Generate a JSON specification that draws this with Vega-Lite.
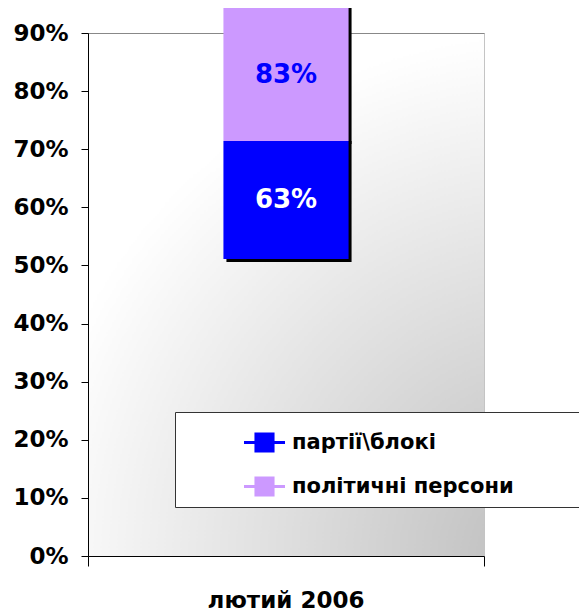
{
  "$schema": "https://vega.github.io/schema/vega-lite/v6.json",
  "width": 396,
  "height": 523,
  "autosize": {"type": "none"},
  "padding": {"left": 88, "top": 33, "right": 95, "bottom": 58},
  "background": "white",
  "config": {
    "font": "DejaVu Sans",
    "view": {
      "stroke": "#c4c4c4",
      "strokeWidth": 1,
      "fill": {
        "gradient": "radial",
        "x1": 1, "y1": 1, "r1": 0,
        "x2": 1, "y2": 1, "r2": 1.0,
        "stops": [
          {"offset": 0, "color": "#bcbcbc"},
          {"offset": 0.5, "color": "#dedede"},
          {"offset": 1, "color": "#ffffff"}
        ]
      }
    }
  },
  "data": {
    "values": [
      {"month": "лютий 2006", "series": "партії\\блокі", "start": 0.511, "end": 0.714, "label": "63%"},
      {"month": "лютий 2006", "series": "політичні персони", "start": 0.714, "end": 0.943, "label": "83%"}
    ]
  },
  "layer": [
    {
      "mark": {"type": "bar", "color": "#000000", "xOffset": 3, "yOffset": 3, "width": {"band": 0.316}},
      "encoding": {
        "x": {
          "field": "month", "type": "nominal",
          "scale": {"paddingInner": 0, "paddingOuter": 0},
          "axis": {
            "title": null,
            "orient": "bottom",
            "bandPosition": 0,
            "ticks": true,
            "tickSize": 10,
            "tickColor": "#000000",
            "domainColor": "#000000",
            "labelAngle": 0,
            "labelPadding": 23,
            "labelFont": "DejaVu Sans",
            "labelFontWeight": "bold",
            "labelFontSize": 23,
            "labelColor": "#000000"
          }
        },
        "y": {
          "field": "start", "type": "quantitative",
          "scale": {"domain": [0, 0.9], "nice": false, "zero": false},
          "axis": {
            "title": null,
            "values": [0, 0.1, 0.2, 0.3, 0.4, 0.5, 0.6, 0.7, 0.8, 0.9],
            "format": ".0%",
            "grid": false,
            "tickSize": 7,
            "tickColor": "#000000",
            "domainColor": "#000000",
            "labelPadding": 13,
            "labelFont": "DejaVu Sans",
            "labelFontWeight": "bold",
            "labelFontSize": 23,
            "labelColor": "#000000"
          }
        },
        "y2": {"field": "end"}
      }
    },
    {
      "mark": {"type": "bar", "width": {"band": 0.316}},
      "encoding": {
        "x": {"field": "month", "type": "nominal"},
        "y": {"field": "start", "type": "quantitative"},
        "y2": {"field": "end"},
        "color": {
          "field": "series", "type": "nominal",
          "scale": {"domain": ["партії\\блокі", "політичні персони"], "range": ["#0000ff", "#cc99ff"]},
          "legend": {
            "title": null,
            "orient": "none",
            "legendX": 87,
            "legendY": 379,
            "direction": "vertical",
            "padding": 10,
            "rowPadding": 13,
            "fillColor": "#ffffff",
            "strokeColor": "#333333",
            "symbolType": "M-1,-0.07H-0.49V-0.49H0.49V-0.07H1V0.07H0.49V0.49H-0.49V0.07H-1Z",
            "symbolSize": 1681,
            "symbolStrokeWidth": 0,
            "symbolOpacity": 1,
            "symbolOffset": 59,
            "labelOffset": 7,
            "labelFont": "DejaVu Sans",
            "labelFontWeight": "bold",
            "labelFontSize": 21,
            "labelColor": "#000000",
            "labelLimit": 800,
            "labelExpr": "datum.label + '\u2800\u2800\u2800\u2800'"
          }
        }
      }
    },
    {
      "transform": [{"fold": ["start", "end"], "as": ["edge", "value"]}],
      "mark": {"type": "text", "font": "DejaVu Sans", "fontWeight": "bold", "fontSize": 26, "baseline": "middle", "align": "center"},
      "encoding": {
        "x": {
          "field": "month", "type": "nominal",
          "axis": {
            "title": null,
            "orient": "bottom",
            "bandPosition": 1,
            "labels": false,
            "domain": false,
            "ticks": true,
            "tickSize": 10,
            "tickColor": "#000000"
          }
        },
        "y": {"field": "value", "type": "quantitative", "aggregate": "mean"},
        "detail": {"field": "series", "type": "nominal"},
        "text": {"field": "label", "type": "nominal"},
        "color": {
          "condition": {"test": "datum.label === '63%'", "value": "#ffffff"},
          "value": "#0000ff"
        }
      }
    }
  ],
  "resolve": {"axis": {"x": "independent"}}
}
